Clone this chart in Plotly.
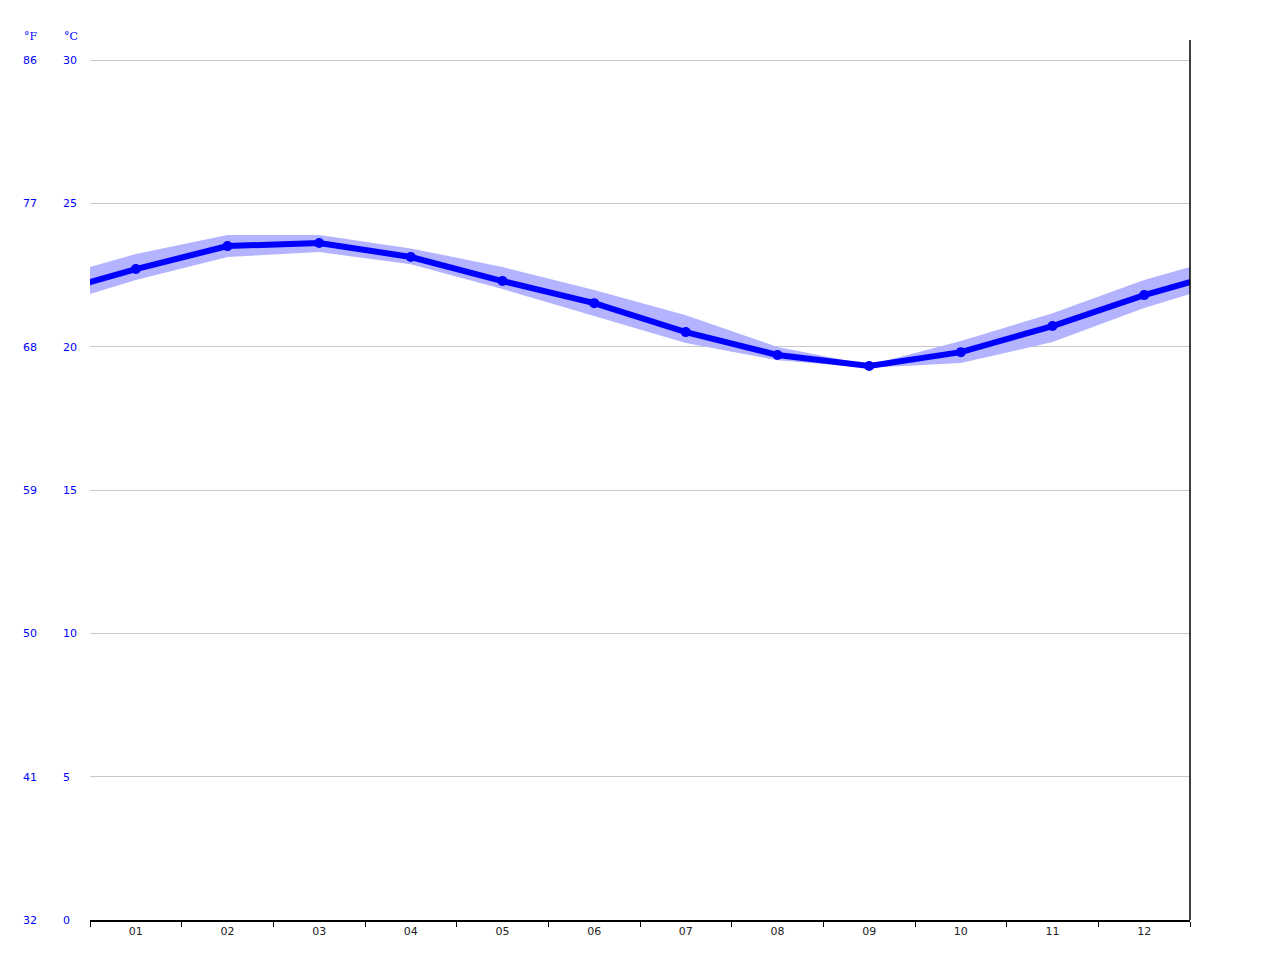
"""
Monthly water temperature chart (°C with °F scale), blue line with min/max band.
"""

import plotly.graph_objects as go

# month labels and values
months = ["01", "02", "03", "04", "05", "06", "07", "08", "09", "10", "11", "12"]
temp_avg = [22.71, 23.51, 23.62, 23.13, 22.29, 21.52, 20.51, 19.71, 19.33, 19.81, 20.72, 21.80]
temp_max = [23.23, 23.90, 23.90, 23.43, 22.78, 21.98, 21.10, 19.99, 19.36, 20.20, 21.17, 22.33]
temp_min = [22.33, 23.13, 23.30, 22.88, 22.01, 21.07, 20.13, 19.53, 19.27, 19.43, 20.16, 21.35]

c_ticks = [0, 5, 10, 15, 20, 25, 30]
f_ticks = [32, 41, 50, 59, 68, 77, 86]

Y_TOP = 30.7  # plot area runs a bit above the 30 gridline

# wrap the year round: December before January and January after December,
# the x range then cuts the lines at the half-month edges
x_pos = list(range(0, 14))
wrap = lambda v: [v[-1]] + v + [v[0]]

fig = go.Figure()

# min/max band
fig.add_trace(go.Scatter(
    x=x_pos, y=wrap(temp_min), mode="lines",
    line=dict(width=0, color="#b3b3ff"), hoverinfo="skip", showlegend=False
))
fig.add_trace(go.Scatter(
    x=x_pos, y=wrap(temp_max), mode="lines", fill="tonexty",
    fillcolor="#b3b3ff", line=dict(width=0, color="#b3b3ff"),
    hoverinfo="skip", showlegend=False
))

# average line
fig.add_trace(go.Scatter(
    x=x_pos, y=wrap(temp_avg), mode="lines+markers",
    line=dict(color="#0000ff", width=6),
    marker=dict(color="#0000ff", size=10),
    showlegend=False
))

# the page body adds 8px, so the figure is drawn 8px smaller
left_px = 82.0
plot_w = 1182.0

fig.update_layout(
    width=1272, height=952,
    margin=dict(l=0, r=90, t=32, b=40),
    paper_bgcolor="white", plot_bgcolor="white",
    font=dict(family="DejaVu Sans", size=11, color="#0000ff"),
    xaxis=dict(
        domain=[left_px / plot_w, 1],
        range=[0.5, 12.5],
        tickmode="array", tickvals=list(range(1, 13)), ticktext=months,
        ticks="", showgrid=False, zeroline=False,
        showline=True, linecolor="black", linewidth=1.5,
        tickfont=dict(color="#222222", size=11),
        minor=dict(tickmode="linear", tick0=0.5, dtick=1,
                   ticks="outside", ticklen=5, tickcolor="black", tickwidth=1),
    ),
    yaxis=dict(
        range=[0, Y_TOP], tickvals=c_ticks, showticklabels=False,
        showgrid=True, gridcolor="#c8c8c8", gridwidth=1,
        zeroline=False, ticks="",
    ),
    # °C labels
    yaxis2=dict(
        overlaying="y", anchor="free", side="right",
        position=54 / plot_w,
        range=[0, Y_TOP], tickvals=c_ticks,
        showgrid=False, zeroline=False, ticks="", showline=False,
        tickfont=dict(color="#0000ff", size=11),
    ),
    # °F labels
    yaxis3=dict(
        overlaying="y", anchor="free", side="right",
        position=14 / plot_w,
        range=[32, 32 + Y_TOP * 1.8], tickvals=f_ticks,
        showgrid=False, zeroline=False, ticks="", showline=False,
        tickfont=dict(color="#0000ff", size=11),
    ),
)

# dummy traces so the label axes get drawn
fig.add_trace(go.Scatter(x=[None], y=[None], yaxis="y2", showlegend=False))
fig.add_trace(go.Scatter(x=[None], y=[None], yaxis="y3", showlegend=False))

# right border
fig.add_shape(type="line", xref="paper", yref="paper",
              x0=1, x1=1, y0=0, y1=1, line=dict(color="black", width=1.5))

# unit headers
for label, x_left in [("°F", 14), ("°C", 54)]:
    fig.add_annotation(text=label, xref="paper", yref="paper",
                       x=x_left / plot_w, y=1, xanchor="left", yanchor="middle",
                       yshift=4, showarrow=False,
                       font=dict(family="DejaVu Serif", size=11, color="#0000ff"))

fig.write_html("out.html")
